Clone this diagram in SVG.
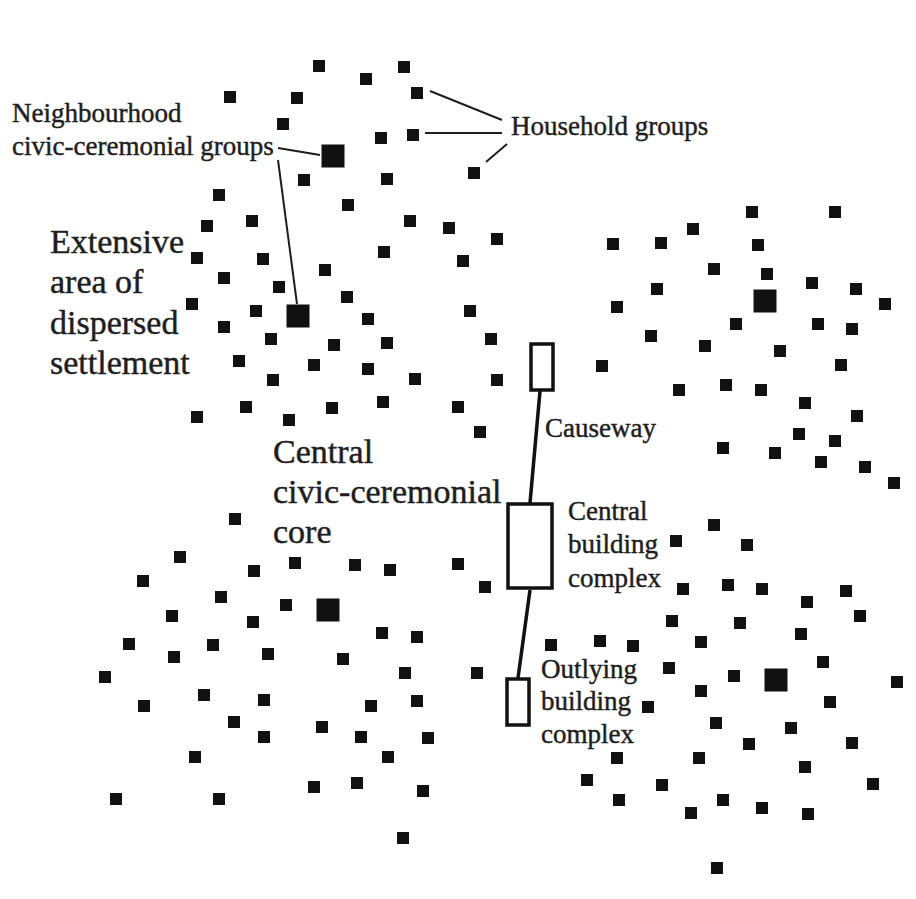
<svg xmlns="http://www.w3.org/2000/svg" xmlns:xlink="http://www.w3.org/1999/xlink" width="916" height="899" viewBox="0 0 916 899">
<style>
.t{font-family:"Liberation Serif","Times New Roman",serif;fill:#1e1e1e;stroke:#1e1e1e;stroke-width:0.45}
.s{font-size:27px}
.b{font-size:34px}
.ld{stroke:#1e1e1e;stroke-width:2;fill:none}
.cw{stroke:#111;stroke-width:3.5;fill:none}
.sq{fill:#111}
</style>
<defs>
<rect id="s" class="sq" x="-6" y="-6" width="12" height="12"/>
<rect id="L" class="sq" x="-11.5" y="-11.5" width="23" height="23"/>
</defs>
<rect x="0" y="0" width="916" height="899" fill="#fff"/>

<g id="household-squares">
<use href="#s" x="319" y="66"/><use href="#s" x="366" y="79"/><use href="#s" x="404" y="67"/><use href="#s" x="230" y="97"/><use href="#s" x="297" y="98"/><use href="#s" x="417" y="93"/><use href="#s" x="283" y="124"/><use href="#s" x="381" y="138"/><use href="#s" x="413" y="135"/><use href="#s" x="304" y="180"/><use href="#s" x="387" y="179"/><use href="#s" x="474" y="173"/><use href="#s" x="219" y="195"/><use href="#s" x="348" y="205"/><use href="#s" x="410" y="221"/><use href="#s" x="449" y="228"/><use href="#s" x="207" y="226"/><use href="#s" x="252" y="221"/><use href="#s" x="497" y="239"/><use href="#s" x="384" y="252"/><use href="#s" x="463" y="261"/><use href="#s" x="197" y="258"/><use href="#s" x="263" y="259"/><use href="#s" x="325" y="270"/><use href="#s" x="224" y="278"/><use href="#s" x="279" y="287"/><use href="#s" x="192" y="304"/><use href="#s" x="347" y="297"/><use href="#s" x="470" y="311"/><use href="#s" x="256" y="311"/><use href="#s" x="368" y="319"/><use href="#s" x="224" y="327"/><use href="#s" x="271" y="339"/><use href="#s" x="239" y="361"/><use href="#s" x="273" y="380"/><use href="#s" x="246" y="407"/><use href="#s" x="197" y="417"/><use href="#s" x="289" y="420"/><use href="#s" x="334" y="345"/><use href="#s" x="387" y="343"/><use href="#s" x="314" y="365"/><use href="#s" x="368" y="369"/><use href="#s" x="415" y="379"/><use href="#s" x="491" y="339"/><use href="#s" x="497" y="380"/><use href="#s" x="332" y="408"/><use href="#s" x="383" y="402"/><use href="#s" x="458" y="407"/><use href="#s" x="480" y="432"/>

<use href="#s" x="752" y="212"/><use href="#s" x="835" y="212"/><use href="#s" x="693" y="229"/><use href="#s" x="613" y="244"/><use href="#s" x="661" y="243"/><use href="#s" x="758" y="245"/><use href="#s" x="714" y="269"/><use href="#s" x="767" y="274"/><use href="#s" x="812" y="283"/><use href="#s" x="657" y="289"/><use href="#s" x="856" y="289"/><use href="#s" x="885" y="304"/><use href="#s" x="617" y="307"/><use href="#s" x="736" y="324"/><use href="#s" x="818" y="324"/><use href="#s" x="852" y="329"/><use href="#s" x="651" y="336"/><use href="#s" x="705" y="346"/><use href="#s" x="780" y="351"/><use href="#s" x="602" y="366"/><use href="#s" x="841" y="365"/><use href="#s" x="679" y="390"/><use href="#s" x="726" y="385"/><use href="#s" x="761" y="390"/><use href="#s" x="805" y="403"/><use href="#s" x="857" y="416"/><use href="#s" x="799" y="434"/><use href="#s" x="835" y="441"/><use href="#s" x="723" y="448"/><use href="#s" x="775" y="453"/><use href="#s" x="821" y="462"/><use href="#s" x="865" y="467"/><use href="#s" x="894" y="483"/>

<use href="#s" x="235" y="519"/><use href="#s" x="180" y="557"/><use href="#s" x="254" y="571"/><use href="#s" x="295" y="563"/><use href="#s" x="143" y="581"/><use href="#s" x="355" y="565"/><use href="#s" x="390" y="570"/><use href="#s" x="458" y="564"/><use href="#s" x="485" y="587"/><use href="#s" x="221" y="597"/><use href="#s" x="286" y="605"/><use href="#s" x="172" y="616"/><use href="#s" x="253" y="622"/><use href="#s" x="382" y="633"/><use href="#s" x="129" y="644"/><use href="#s" x="213" y="645"/><use href="#s" x="174" y="657"/><use href="#s" x="268" y="654"/><use href="#s" x="343" y="659"/><use href="#s" x="417" y="637"/><use href="#s" x="105" y="677"/><use href="#s" x="204" y="695"/><use href="#s" x="264" y="700"/><use href="#s" x="371" y="706"/><use href="#s" x="144" y="706"/><use href="#s" x="405" y="673"/><use href="#s" x="477" y="673"/><use href="#s" x="417" y="701"/><use href="#s" x="234" y="722"/><use href="#s" x="322" y="727"/><use href="#s" x="264" y="737"/><use href="#s" x="361" y="737"/><use href="#s" x="428" y="738"/><use href="#s" x="388" y="757"/><use href="#s" x="195" y="757"/><use href="#s" x="314" y="787"/><use href="#s" x="357" y="783"/><use href="#s" x="423" y="791"/><use href="#s" x="116" y="799"/><use href="#s" x="219" y="799"/><use href="#s" x="403" y="838"/>

<use href="#s" x="714" y="525"/><use href="#s" x="676" y="541"/><use href="#s" x="747" y="545"/><use href="#s" x="683" y="589"/><use href="#s" x="728" y="585"/><use href="#s" x="762" y="589"/><use href="#s" x="846" y="591"/><use href="#s" x="807" y="602"/><use href="#s" x="860" y="616"/><use href="#s" x="672" y="621"/><use href="#s" x="740" y="623"/><use href="#s" x="801" y="634"/><use href="#s" x="551" y="645"/><use href="#s" x="600" y="641"/><use href="#s" x="633" y="646"/><use href="#s" x="701" y="642"/><use href="#s" x="823" y="662"/><use href="#s" x="669" y="668"/><use href="#s" x="734" y="676"/><use href="#s" x="897" y="682"/><use href="#s" x="701" y="691"/><use href="#s" x="830" y="702"/><use href="#s" x="648" y="707"/><use href="#s" x="716" y="723"/><use href="#s" x="791" y="728"/><use href="#s" x="749" y="744"/><use href="#s" x="852" y="743"/><use href="#s" x="617" y="758"/><use href="#s" x="699" y="758"/><use href="#s" x="805" y="767"/><use href="#s" x="587" y="780"/><use href="#s" x="662" y="785"/><use href="#s" x="873" y="784"/><use href="#s" x="619" y="800"/><use href="#s" x="723" y="800"/><use href="#s" x="691" y="813"/><use href="#s" x="762" y="808"/><use href="#s" x="808" y="814"/><use href="#s" x="717" y="868"/>
</g>

<g id="neighbourhood-groups">
<use href="#L" x="333" y="156"/>
<use href="#L" x="298" y="316"/>
<use href="#L" x="765" y="301"/>
<use href="#L" x="328" y="610"/>
<use href="#L" x="776" y="680"/>
</g>

<g id="core">
<g id="top-complex"><rect class="cw" x="531" y="344" width="22" height="46"/></g>
<g id="central-complex"><rect class="cw" x="508" y="504" width="44" height="84"/></g>
<g id="outlying-complex"><rect class="cw" x="507" y="679" width="22" height="46"/></g>
</g>

<g id="connectors">
<line class="cw" x1="540" y1="391" x2="530" y2="503"/>
<line class="cw" x1="530" y1="590" x2="518" y2="678"/>
<line class="ld" x1="430" y1="91" x2="502" y2="120"/>
<line class="ld" x1="425" y1="133" x2="502" y2="133"/>
<line class="ld" x1="486" y1="162" x2="507" y2="144"/>
<line class="ld" x1="278" y1="148" x2="320" y2="155"/>
<line class="ld" x1="278" y1="160" x2="297" y2="304"/>
</g>

<g id="labels">
<text class="t s" x="12" y="122">Neighbourhood</text>
<text class="t s" x="12" y="155">civic-ceremonial groups</text>
<text class="t s" x="511" y="135">Household groups</text>
<text class="t b" x="50" y="253">Extensive</text>
<text class="t b" x="50" y="293">area of</text>
<text class="t b" x="50" y="334">dispersed</text>
<text class="t b" x="50" y="374">settlement</text>
<text class="t b" x="273" y="463">Central</text>
<text class="t b" x="273" y="503">civic-ceremonial</text>
<text class="t b" x="273" y="543">core</text>
<text class="t s" x="545" y="437">Causeway</text>
<text class="t s" x="568" y="520">Central</text>
<text class="t s" x="568" y="553">building</text>
<text class="t s" x="568" y="587">complex</text>
<text class="t s" x="541" y="678">Outlying</text>
<text class="t s" x="541" y="710">building</text>
<text class="t s" x="541" y="743">complex</text>
</g>
</svg>
